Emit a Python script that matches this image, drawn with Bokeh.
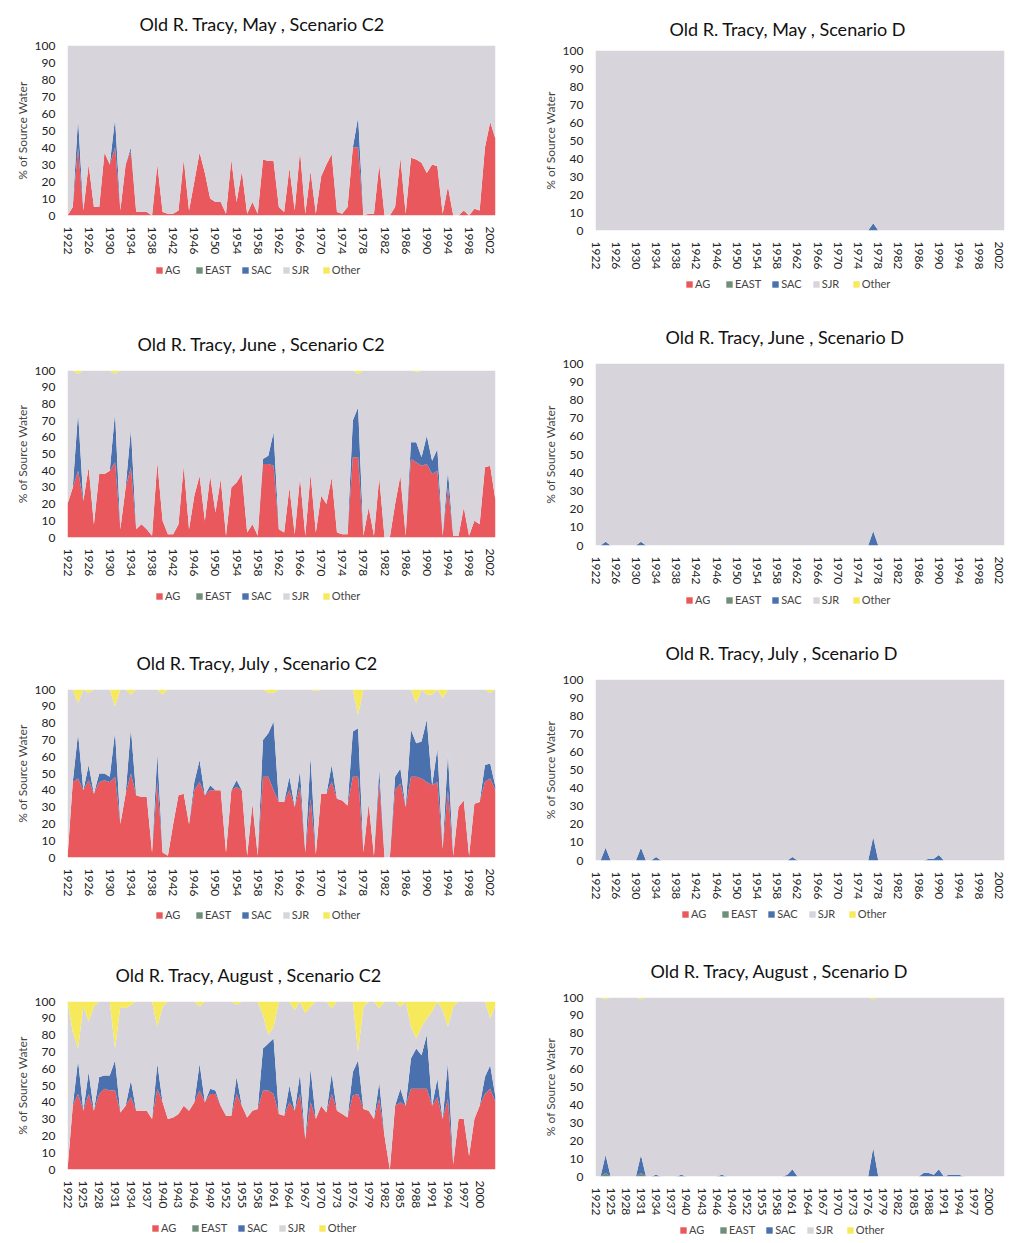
from bokeh.plotting import figure
from bokeh.models import Range1d, FixedTicker, Legend, LegendItem, ColumnDataSource
from bokeh.layouts import row, column
from bokeh.embed import file_html
from bokeh.resources import INLINE

YEARS = list(range(1922, 2004))
SERIES = ["AG", "EAST", "SAC", "SJR", "Other"]
COLORS = ["#e8585c", "#6f8f7a", "#4a70ad", "#d7d5db", "#f6ea5c"]
TICKS4 = list(range(1922, 2003, 4))
TICKS3 = list(range(1922, 2001, 3))
ZERO = [0] * 82

# ---------------- Scenario C2 ----------------
may_c2_ag = [0, 5, 40, 3, 30, 5, 5, 37, 30, 40,
             3, 30, 38, 2, 2, 2, 0, 30, 2, 1,
             1, 3, 33, 3, 20, 37, 25, 10, 8, 8,
             1, 33, 8, 26, 1, 8, 1, 33, 32, 32,
             5, 2, 28, 3, 38, 1, 26, 1, 23, 30,
             36, 2, 1, 5, 40, 40, 0, 1, 1, 30,
             0, 0, 5, 34, 1, 34, 33, 31, 25, 30,
             29, 1, 17, 0, 0, 3, 0, 4, 3, 40,
             55, 45]
may_c2_sac = [0, 0, 17, 0, 0, 0, 0, 0, 0, 17,
              0, 0, 2, 0, 0, 0, 0, 0, 0, 0,
              0, 0, 0, 0, 0, 0, 0, 0, 0, 0,
              0, 0, 0, 0, 0, 0, 0, 0, 0, 0,
              0, 0, 0, 0, 0, 0, 0, 0, 0, 0,
              0, 0, 0, 0, 0, 18, 0, 0, 0, 0,
              0, 0, 0, 0, 0, 0, 0, 0, 0, 0,
              0, 0, 0, 0, 0, 0, 0, 0, 0, 0,
              0, 0]

jun_c2_ag = [20, 30, 40, 22, 42, 8, 38, 38, 40, 45,
             5, 30, 42, 5, 8, 5, 1, 45, 10, 2,
             2, 8, 43, 5, 25, 37, 10, 37, 15, 35,
             1, 30, 33, 38, 3, 8, 1, 44, 44, 43,
             5, 3, 30, 2, 36, 1, 38, 3, 25, 20,
             36, 3, 2, 2, 48, 48, 1, 18, 1, 36,
             0, 0, 20, 37, 1, 47, 45, 43, 44, 38,
             40, 1, 30, 1, 1, 18, 1, 10, 8, 42,
             43, 22]
jun_c2_sac = [0, 0, 35, 0, 0, 0, 0, 0, 0, 30,
              0, 0, 23, 0, 0, 0, 0, 0, 0, 0,
              0, 0, 0, 0, 0, 0, 0, 0, 0, 0,
              0, 0, 0, 0, 0, 0, 0, 3, 5, 20,
              0, 0, 0, 0, 0, 0, 0, 0, 0, 0,
              0, 0, 0, 0, 22, 30, 0, 0, 0, 0,
              0, 0, 0, 0, 0, 10, 12, 5, 17, 8,
              13, 0, 10, 0, 0, 0, 0, 0, 0, 0,
              0, 0]
jun_c2_other = [0, 0, 2, 0, 0, 0, 0, 0, 0, 2,
                0, 0, 0, 0, 0, 0, 0, 0, 0, 0,
                0, 0, 0, 0, 0, 0, 0, 0, 0, 0,
                0, 0, 0, 0, 0, 0, 0, 0, 0, 0,
                0, 0, 0, 0, 0, 0, 0, 0, 0, 0,
                0, 0, 0, 0, 0, 2, 0, 0, 0, 0,
                0, 0, 0, 0, 0, 0, 1, 0, 0, 0,
                0, 0, 0, 0, 0, 0, 0, 0, 0, 0,
                0, 0]

jul_c2_ag = [0, 45, 47, 40, 46, 38, 45, 46, 45, 48,
             20, 38, 50, 37, 36, 36, 3, 45, 3, 1,
             20, 37, 38, 20, 40, 45, 37, 40, 40, 40,
             3, 40, 42, 40, 1, 32, 1, 48, 48, 40,
             33, 33, 40, 30, 42, 3, 35, 2, 38, 38,
             45, 35, 34, 31, 48, 48, 3, 32, 1, 45,
             0, 0, 40, 44, 30, 48, 48, 47, 45, 43,
             45, 5, 40, 1, 30, 34, 1, 32, 33, 45,
             47, 40]
jul_c2_sac = [0, 0, 27, 0, 9, 0, 5, 4, 3, 27,
              0, 0, 27, 0, 0, 0, 0, 17, 0, 0,
              0, 0, 0, 0, 5, 13, 0, 3, 0, 0,
              0, 0, 4, 0, 0, 0, 0, 22, 26, 41,
              0, 0, 8, 0, 10, 0, 25, 0, 0, 0,
              10, 0, 0, 0, 27, 29, 0, 0, 0, 8,
              0, 0, 8, 9, 0, 28, 20, 22, 37, 0,
              20, 0, 22, 0, 0, 0, 0, 0, 0, 10,
              9, 2]
jul_c2_other = [0, 0, 8, 0, 2, 0, 0, 0, 0, 10,
                0, 0, 3, 0, 0, 0, 0, 0, 3, 0,
                0, 0, 0, 0, 0, 0, 0, 0, 0, 0,
                0, 0, 0, 0, 0, 0, 0, 0, 2, 2,
                0, 0, 0, 0, 0, 0, 0, 1, 0, 0,
                0, 0, 0, 0, 0, 15, 0, 0, 0, 0,
                0, 0, 0, 0, 0, 0, 8, 0, 3, 3,
                0, 5, 0, 0, 0, 0, 0, 0, 0, 0,
                2, 0]

aug_c2_ag = [0, 38, 45, 35, 45, 35, 45, 48, 47, 47,
             34, 38, 43, 35, 35, 35, 30, 48, 40, 30,
             31, 33, 38, 35, 40, 47, 40, 45, 45, 38,
             32, 32, 45, 38, 31, 35, 36, 47, 47, 45,
             33, 32, 40, 35, 45, 18, 40, 30, 38, 34,
             45, 35, 33, 31, 44, 45, 36, 35, 30, 42,
             20, 0, 38, 40, 38, 48, 48, 48, 48, 38,
             43, 30, 42, 3, 30, 30, 8, 30, 38, 45,
             48, 40]
aug_c2_sac = [0, 0, 20, 0, 13, 0, 10, 8, 9, 18,
              0, 0, 10, 0, 0, 0, 0, 15, 0, 0,
              0, 0, 0, 0, 0, 16, 0, 3, 2, 0,
              0, 0, 10, 0, 0, 0, 0, 25, 28, 33,
              0, 0, 10, 0, 12, 0, 20, 0, 0, 0,
              12, 0, 0, 0, 14, 20, 0, 0, 0, 10,
              0, 0, 0, 8, 0, 18, 24, 20, 32, 0,
              11, 0, 22, 0, 0, 0, 0, 0, 0, 10,
              14, 3]
aug_c2_other = [0, 18, 28, 3, 12, 3, 0, 0, 0, 28,
                3, 4, 2, 0, 0, 0, 0, 15, 3, 0,
                0, 0, 0, 0, 0, 3, 0, 0, 0, 0,
                0, 0, 2, 0, 0, 0, 0, 8, 20, 15,
                0, 0, 0, 5, 0, 7, 3, 0, 0, 0,
                4, 0, 0, 0, 0, 30, 3, 0, 0, 4,
                0, 0, 0, 3, 0, 15, 22, 15, 10, 6,
                0, 5, 15, 3, 0, 0, 0, 0, 0, 0,
                10, 2]

# ---------------- Scenario D ----------------
may_d_sac = [0, 0, 0, 0, 0, 0, 0, 0, 0, 0,
             0, 0, 0, 0, 0, 0, 0, 0, 0, 0,
             0, 0, 0, 0, 0, 0, 0, 0, 0, 0,
             0, 0, 0, 0, 0, 0, 0, 0, 0, 0,
             0, 0, 0, 0, 0, 0, 0, 0, 0, 0,
             0, 0, 0, 0, 0, 4, 0, 0, 0, 0,
             0, 0, 0, 0, 0, 0, 0, 0, 0, 0,
             0, 0, 0, 0, 0, 0, 0, 0, 0, 0,
             0, 0]
jun_d_sac = [0, 0, 2, 0, 0, 0, 0, 0, 0, 2,
             0, 0, 0, 0, 0, 0, 0, 0, 0, 0,
             0, 0, 0, 0, 0, 0, 0, 0, 0, 0,
             0, 0, 0, 0, 0, 0, 0, 0, 0, 0,
             0, 0, 0, 0, 0, 0, 0, 0, 0, 0,
             0, 0, 0, 0, 0, 8, 0, 0, 0, 0,
             0, 0, 0, 0, 0, 0, 0, 0, 0, 0,
             0, 0, 0, 0, 0, 0, 0, 0, 0, 0,
             0, 0]
jul_d_sac = [0, 0, 7, 0, 0, 0, 0, 0, 0, 7,
             0, 0, 2, 0, 0, 0, 0, 0, 0, 0,
             0, 0, 0, 0, 0, 0, 0, 0, 0, 0,
             0, 0, 0, 0, 0, 0, 0, 0, 0, 2,
             0, 0, 0, 0, 0, 0, 0, 0, 0, 0,
             0, 0, 0, 0, 0, 13, 0, 0, 0, 0,
             0, 0, 0, 0, 0, 0, 1, 1, 3, 0,
             0, 0, 0, 0, 0, 0, 0, 0, 0, 0,
             0, 0]
aug_d_sac = [0, 0, 10, 0, 0, 0, 0, 0, 0, 10,
             0, 0, 1, 0, 0, 0, 0, 1, 0, 0,
             0, 0, 0, 0, 0, 1, 0, 0, 0, 0,
             0, 0, 0, 0, 0, 0, 0, 0, 1, 4,
             0, 0, 0, 0, 0, 0, 0, 0, 0, 0,
             0, 0, 0, 0, 0, 16, 0, 0, 0, 0,
             0, 0, 0, 0, 0, 2, 2, 1, 4, 0,
             1, 1, 1, 0, 0, 0, 0, 0, 0, 0,
             0, 0]
aug_d_east = [0, 0, 2, 0, 0, 0, 0, 0, 0, 2,
              0, 0, 0, 0, 0, 0, 0, 0, 0, 0,
              0, 0, 0, 0, 0, 0, 0, 0, 0, 0,
              0, 0, 0, 0, 0, 0, 0, 0, 0, 0,
              0, 0, 0, 0, 0, 0, 0, 0, 0, 0,
              0, 0, 0, 0, 0, 0, 0, 0, 0, 0,
              0, 0, 0, 0, 0, 0, 0, 0, 0, 0,
              0, 0, 0, 0, 0, 0, 0, 0, 0, 0,
              0, 0]
aug_d_other = [0, 0, 1, 0, 0, 0, 0, 0, 0, 1,
               0, 0, 0, 0, 0, 0, 0, 0, 0, 0,
               0, 0, 0, 0, 0, 0, 0, 0, 0, 0,
               0, 0, 0, 0, 0, 0, 0, 0, 0, 0,
               0, 0, 0, 0, 0, 0, 0, 0, 0, 0,
               0, 0, 0, 0, 0, 1, 0, 0, 0, 0,
               0, 0, 0, 0, 0, 0, 0, 0, 0, 0,
               0, 0, 0, 0, 0, 0, 0, 0, 0, 0,
               0, 0]

FONT = "Lato"
LEG_H = 24


def panel(title, ag, east, sac, other, ticks, w, h, bl, bt, bb, br, tx, lx, ts):
    for arr in (ag, east, sac, other):
        assert len(arr) == len(YEARS)
    sjr = [max(0, 100 - a - e - s - o) for a, e, s, o in zip(ag, east, sac, other)]
    src = ColumnDataSource(dict(year=YEARS, AG=ag, EAST=east, SAC=sac, SJR=sjr, Other=other))
    p = figure(width=w, height=h, output_backend="svg", toolbar_location=None,
               x_range=Range1d(1922, 2003), y_range=Range1d(0, 100),
               min_border_left=bl, min_border_top=bt, min_border_bottom=bb, min_border_right=br)
    p.varea_stack(stackers=SERIES, x="year", color=COLORS, source=src)
    p.title.text = title
    p.title.align = "left"
    p.title.offset = tx
    p.title.text_font = FONT
    p.title.text_font_size = "18px"
    p.title.text_font_style = "normal"
    p.title.text_color = "#111111"
    p.title.standoff = ts
    p.xaxis.ticker = FixedTicker(ticks=ticks)
    p.yaxis.ticker = FixedTicker(ticks=list(range(0, 101, 10)))
    p.xaxis.major_label_orientation = "vertical"
    p.yaxis.axis_label = "% of Source Water"
    p.yaxis.axis_label_text_font = FONT
    p.yaxis.axis_label_text_font_size = "12px"
    p.yaxis.axis_label_text_font_style = "normal"
    p.yaxis.axis_label_standoff = 2
    p.axis.major_label_text_font = FONT
    p.axis.major_label_text_font_size = "12px"
    p.axis.major_label_text_color = "#222222"
    p.axis.axis_line_color = None
    p.axis.major_tick_line_color = None
    p.axis.minor_tick_line_color = None
    p.xaxis.major_label_standoff = 5
    p.yaxis.major_label_standoff = 6
    p.xgrid.grid_line_color = None
    p.ygrid.grid_line_color = None
    p.outline_line_color = None

    # legend strip under the chart: same stacked series, drawn outside its view
    q = figure(width=w, height=LEG_H, output_backend="svg", toolbar_location=None,
               x_range=Range1d(0, 1), y_range=Range1d(0, 1),
               min_border_left=bl, min_border_right=br, min_border_top=0, min_border_bottom=0,
               x_axis_location=None, y_axis_location=None)
    q.xgrid.grid_line_color = None
    q.ygrid.grid_line_color = None
    q.outline_line_color = None
    rs = q.varea_stack(stackers=SERIES, x="year", color=COLORS, source=src)
    items = [LegendItem(label=n, renderers=[r]) for n, r in zip(SERIES, rs)]
    leg = Legend(items=items, orientation="horizontal", location=(lx, 6),
                 label_text_font=FONT, label_text_font_size="11px",
                 glyph_width=8, glyph_height=8, label_standoff=2, spacing=10,
                 padding=0, margin=0, border_line_color=None, background_fill_alpha=0,
                 label_height=12)
    q.add_layout(leg, "center")
    return [p, q]


left = column(
    *panel("Old R. Tracy, May , Scenario C2", may_c2_ag, ZERO, may_c2_sac, ZERO, TICKS4,
           505, 258, 67, 45, 43, 10, 72, 88, 21),
    *panel("Old R. Tracy, June , Scenario C2", jun_c2_ag, ZERO, jun_c2_sac, jun_c2_other, TICKS4,
           505, 302, 67, 88, 47, 10, 70, 88, 32),
    *panel("Old R. Tracy, July , Scenario C2", jul_c2_ag, ZERO, jul_c2_sac, jul_c2_other, TICKS4,
           505, 295, 67, 81, 46, 10, 69, 88, 32),
    *panel("Old R. Tracy, August , Scenario C2", aug_c2_ag, ZERO, aug_c2_sac, aug_c2_other, TICKS3,
           505, 289, 67, 74, 47, 10, 48, 84, 32),
)
right = column(
    *panel("Old R. Tracy, May , Scenario D", ZERO, ZERO, may_d_sac, ZERO, TICKS4,
           506, 272, 90, 50, 40, 7, 74, 90, 21),
    *panel("Old R. Tracy, June , Scenario D", ZERO, ZERO, jun_d_sac, ZERO, TICKS4,
           506, 292, 90, 67, 43, 7, 70, 90, 32),
    *panel("Old R. Tracy, July , Scenario D", ZERO, ZERO, jul_d_sac, ZERO, TICKS4,
           506, 290, 90, 67, 42, 7, 70, 86, 32),
    *panel("Old R. Tracy, August , Scenario D", ZERO, aug_d_east, aug_d_sac, aug_d_other, TICKS3,
           506, 292, 90, 71, 40, 7, 55, 84, 32),
)
layout = row(left, right)

open("out.html", "w").write(file_html(layout, INLINE))
